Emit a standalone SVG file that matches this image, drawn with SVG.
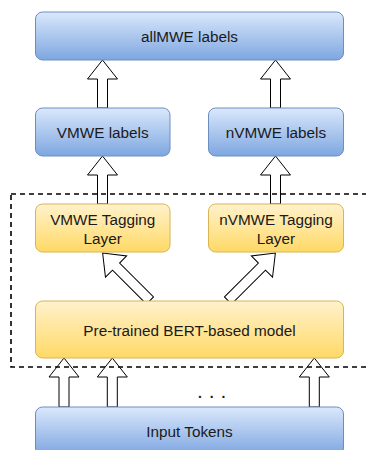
<svg xmlns="http://www.w3.org/2000/svg" width="366" height="450" viewBox="0 0 366 450">
<defs>
<linearGradient id="gBlue" x1="0" y1="0" x2="0" y2="1"><stop offset="0" stop-color="#dae8fc"/><stop offset="1" stop-color="#7ea6e0"/></linearGradient>
<linearGradient id="gYellow" x1="0" y1="0" x2="0" y2="1"><stop offset="0" stop-color="#fff2cc"/><stop offset="1" stop-color="#ffd966"/></linearGradient>
<polygon id="arrowH" points="0,-5 48,-5 48,-15 67,0 48,15 48,5 0,5"/>
</defs>
<style>
.blue{fill:url(#gBlue);stroke:#6c8ebf;stroke-width:1}
.yellow{fill:url(#gYellow);stroke:#d6b656;stroke-width:1}
.lbl{font-family:"Liberation Sans",Arial,sans-serif;font-size:15.3px;fill:#1a1a1a;text-anchor:middle}
.arr{fill:#fff;stroke:#000;stroke-width:1;stroke-linejoin:miter}
.frame{fill:none;stroke:#000;stroke-width:1.6;stroke-dasharray:5 4}
</style>
<rect width="366" height="450" fill="#fff"/>
<g id="connectors">
<polygon class="arr" points="97.5,108 97.5,79 87.5,79 102.5,60 117.5,79 107.5,79 107.5,108"/>
<polygon class="arr" points="270.5,108 270.5,79 260.5,79 275.5,60 290.5,79 280.5,79 280.5,108"/>
<polygon class="arr" points="97.5,204 97.5,175 87.5,175 102.5,156 117.5,175 107.5,175 107.5,204"/>
<polygon class="arr" points="270.5,204 270.5,175 260.5,175 275.5,156 290.5,175 280.5,175 280.5,204"/>
<use href="#arrowH" class="arr" transform="translate(150,300.5) rotate(-135)"/>
<use href="#arrowH" class="arr" transform="translate(228,300.5) rotate(-45)"/>
<polygon class="arr" points="59,407 59,377 49,377 64,358 79,377 69,377 69,407"/>
<polygon class="arr" points="107.3,407 107.3,377 97.3,377 112.3,358 127.3,377 117.3,377 117.3,407"/>
<polygon class="arr" points="309.3,407 309.3,377 299.3,377 314.3,358 329.3,377 319.3,377 319.3,407"/>
</g>
<g id="allmwe"><rect class="blue" x="35.5" y="12" width="308" height="48" rx="7"/><text class="lbl" x="189.5" y="41.5">allMWE labels</text></g>
<g id="vmwe-labels"><rect class="blue" x="35.5" y="108" width="134.5" height="48" rx="7"/><text class="lbl" x="102.75" y="137.5">VMWE labels</text></g>
<g id="nvmwe-labels"><rect class="blue" x="208.5" y="108" width="135" height="48" rx="7"/><text class="lbl" x="276" y="137.5">nVMWE labels</text></g>
<g id="vmwe-tagging"><rect class="yellow" x="35.5" y="204" width="134.5" height="48" rx="7"/><text class="lbl" x="102.75" y="224.8">VMWE Tagging</text><text class="lbl" x="102.75" y="243.8">Layer</text></g>
<g id="nvmwe-tagging"><rect class="yellow" x="208.5" y="204" width="135" height="48" rx="7"/><text class="lbl" x="276" y="224.8">nVMWE Tagging</text><text class="lbl" x="276" y="243.8">Layer</text></g>
<g id="bert"><rect class="yellow" x="35.5" y="301" width="308" height="57" rx="7"/><text class="lbl" x="189.5" y="335.5">Pre-trained BERT-based model</text></g>
<g id="input-tokens"><rect class="blue" x="35.5" y="407" width="308" height="48" rx="7"/><text class="lbl" x="189.5" y="436.5">Input Tokens</text></g>
<text class="lbl" x="211.7" y="398" style="font-size:21px">. . .</text>
<rect class="frame" x="11" y="194" width="370" height="173"/>
</svg>
